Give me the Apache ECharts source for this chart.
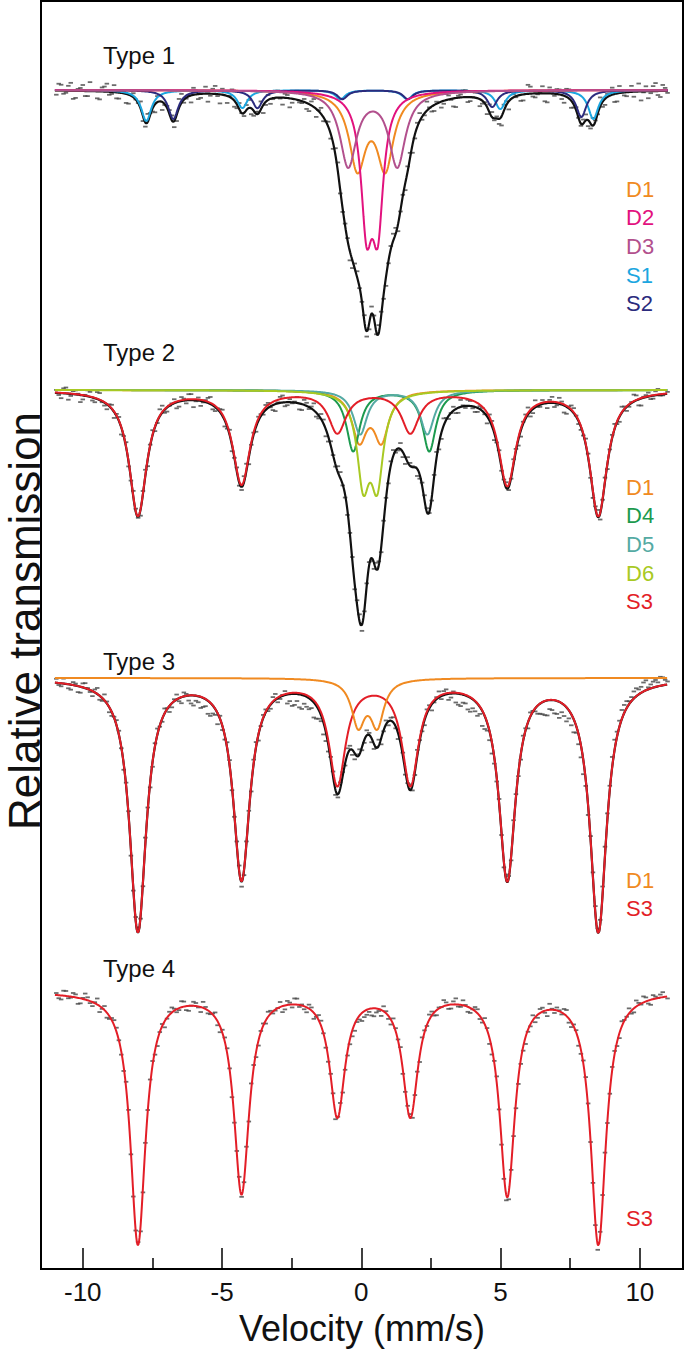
<!DOCTYPE html>
<html><head><meta charset="utf-8">
<script src="https://cdn.jsdelivr.net/npm/echarts@6/dist/echarts.min.js"></script>
<style>html,body{margin:0;padding:0;background:#fff}#c{width:685px;height:1351px}</style>
</head><body><div id="c"></div>
<script>
// ---------------- axis / labels ----------------
const velocityTicks = [-10, -5, 0, 5, 10];
const velocityMinorTicks = [-7.5, -2.5, 2.5, 7.5];
const panelNames = ['Type 1', 'Type 2', 'Type 3', 'Type 4'];
const legendT1 = ['D1', 'D2', 'D3', 'S1', 'S2'];
const legendT2 = ['D1', 'D4', 'D5', 'D6', 'S3'];
const legendT3 = ['D1', 'S3'];
const legendT4 = ['S3'];

// ---------------- fitted sub-spectra: line positions (mm/s), depths (% absorption), half widths (mm/s) ----------------
const S3_pos = [-8.02, -4.30, -0.86, 1.76, 5.24, 8.51];

// Type 1
const T1_S1_pos = [-7.72, -4.27, -0.75, 1.65, 4.99, 8.33];
const T1_S1_depth = [0.31, 0.18, 0.09, 0.09, 0.19, 0.29];
const T1_S2_pos = [-6.75, -3.73, -0.68, 1.68, 4.70, 7.90];
const T1_S2_depth = [0.29, 0.18, 0.09, 0.09, 0.17, 0.27];
const T1_D1_pos = [-0.14, 0.86];
const T1_D1_depth = [0.75, 0.75];
const T1_D2_pos = [0.19, 0.59];
const T1_D2_depth = [1.24, 1.24];
const T1_D3_pos = [-0.47, 1.29];
const T1_D3_depth = [0.75, 0.75];
const T1_halfwidth = {S1: 0.22, S2: 0.22, D1: 0.36, D2: 0.245, D3: 0.36};

// Type 2
const T2_S3_depth = [1.25, 0.93, 0.41, 0.41, 0.94, 1.25];
const T2_D1_pos = [-0.07, 0.72];
const T2_D1_depth = [0.48, 0.48];
const T2_D4_pos = [-0.29, 2.44];
const T2_D4_depth = [0.61, 0.61];
const T2_D5_pos = [-0.04, 2.37];
const T2_D5_depth = [0.44, 0.44];
const T2_D6_pos = [0.07, 0.57];
const T2_D6_depth = [0.86, 0.86];
const T2_halfwidth = {S3: 0.38, D1: 0.32, D4: 0.29, D5: 0.30, D6: 0.27};

// Type 3
const T3_S3_depth = [2.52, 1.99, 1.03, 1.03, 1.99, 2.52];
const T3_D1_pos = [-0.11, 0.57];
const T3_D1_depth = [0.45, 0.45];
const T3_halfwidth = {S3: 0.36, D1: 0.29};

// Type 4
const T4_S3_depth = [2.52, 2.00, 1.22, 1.22, 2.02, 2.52];
const T4_halfwidth = {S3: 0.33};

// ---------------- measured points: residuals from the fit (0.01 % units) ----------------
// even channels start at -10.95 mm/s, odd channels lie half a step further; step = 0.0864 mm/s
const CH_START = -10.95, CH_STEP = 0.0864;
const T1_resid_even = [-4,6,-2,8,-7,3,-5,9,1,-8,5,-3,7,-6,2,-9,4,0,-5,8,-3,6,-8,2,5,-6,9,-1,-7,4,-4,7,-2,8,-9,3,1,-6,6,-3,8,-5,2,-8,5,-1,7,-7,3,-4,9,-2,-6,4,-8,6,0,-5,7,-3,2,-9,5,-1,6,-6,3,8,-4,-2,7,-7,1,5,-8,4,-3,9,-5,2,-6,6,-1,-9,3,7,-4,5,-7,1,8,-2,-5,6,-8,3,4,-6,9,-3,-1,7,-9,2,5,-4,8,-7,3,-2,6,-5,1,9,-6,4,-8,7,-3,2,-5,8,-1,-7,5,-4,6,-2];
const T1_resid_odd = [7,-3,5,-8,2,6,-5,1,-7,4,8,-2,-6,3,-9,5,0,7,-4,2,-8,6,-1,4,-6,9,-3,1,7,-5,3,-8,5,-2,6,-7,9,-4,0,5,-6,2,8,-3,-5,7,-1,4,-9,6,-2,3,-7,8,1,-4,5,-6,9,-3,2,-8,6,0,-5,7,-2,4,-9,3,6,-1,-7,5,-4,8,-2,1,-6,9,-3,4,-8,2,7,-5,0,6,-3,-7,5,2,-9,4,8,-1,-6,3,7,-4,1,-8,6,-2,5,-7,9,-3,0,4,-6,8,-1,-5,3,7,-8,2,-4,6,1,-9,5,-2,8,-6,3];
const T2_resid_even = [3,-5,6,-2,4,-7,1,5,-4,7,-3,2,-6,4,0,-5,6,-1,3,-7,5,-2,7,-4,1,-6,4,-3,6,-1,-5,2,7,-4,3,-6,5,0,-3,6,-7,2,4,-2,5,-5,1,7,-3,-1,6,-6,3,2,-4,5,-7,4,-2,6,-3,1,-5,7,-1,3,-6,4,2,-4,6,-2,-5,5,1,-7,3,4,-3,6,-6,2,0,-4,7,-2,5,-5,3,-1,6,-7,4,1,-3,5,-6,2,7,-4,-1,4,-5,6,-2,3,-7,5,1,-3,6,-4,2,-6,4,0,5,-5,3,-2,7,-6,1,4,-3,6,-1,2];
const T2_resid_odd = [-2,5,-6,3,1,-4,6,-3,7,-1,-5,4,2,-7,5,-2,3,-6,6,1,-4,7,-3,0,4,-5,2,6,-7,3,-1,5,-4,1,6,-2,-6,4,-3,7,0,-5,2,5,-1,-7,6,-4,3,1,-6,5,-2,7,-3,4,-5,0,6,-1,-4,3,5,-6,2,-3,7,-5,1,4,-2,6,-7,3,0,-4,5,-1,2,-6,7,-3,4,-5,1,6,-2,-4,3,-7,5,0,-3,6,-1,2,-6,4,-5,7,-2,1,3,-4,6,-7,2,5,-3,-1,4,-6,7,0,-5,3,-2,6,-4,1,5,-7,2,-3,4,-1];
const T3_resid_even = [4,-3,6,-5,2,-6,5,-2,3,-4,6,-5,1,4,-6,3,-2,5,-4,2,-5,6,-3,1,-4,5,-6,2,-8,-5,-11,-7,-13,-6,3,-4,5,-2,6,-5,2,4,-6,3,-3,5,-4,1,-9,-12,-7,-14,-10,-8,-13,-6,-9,3,-5,6,-2,4,-6,5,-3,2,-5,6,-1,-4,5,-6,3,1,-5,6,-2,4,-6,2,-3,5,-4,-9,-12,-8,-14,-10,-7,-13,-9,-6,4,-5,2,6,-3,5,-6,1,-8,-12,-15,-10,-13,-9,-14,-11,-7,-12,-6,3,7,5,9,4,10,6,8,3,7,5,9,2,6,4,8,3];
const T3_resid_odd = [-2,5,-4,3,-6,4,1,-5,6,-3,2,-4,5,-1,3,-6,4,-2,6,-5,3,-1,5,-6,2,-3,4,-5,-10,-6,-9,-13,-8,-11,-4,6,-3,4,-5,2,-6,5,-1,3,-4,6,-2,4,-7,-11,-13,-8,-11,-15,-9,-12,-7,5,-3,4,6,-5,2,-3,5,-4,1,-6,4,3,-2,5,-4,6,-3,1,-5,3,-1,6,4,-6,2,-11,-8,-13,-9,-12,-15,-8,-11,-4,-2,6,-4,3,-5,2,4,-3,-10,-14,-9,-13,-16,-11,-8,-13,-10,-14,-9,5,4,8,6,10,5,9,7,4,8,6,10,4,7,9,5,6];
const T4_resid_even = [2,-4,5,-1,3,-5,6,-2,1,-6,4,-3,5,0,-4,6,-2,3,-5,1,4,-6,2,-1,5,-3,6,-4,0,3,-5,2,-2,5,-6,4,1,-3,6,-1,-4,3,-5,2,5,-2,0,-6,4,-3,6,1,-5,3,-1,5,-4,2,-6,4,-2,-5,-7,-4,-6,-3,-8,-2,5,-3,6,1,-4,3,-6,2,5,-1,4,-5,0,3,-4,6,-2,1,-5,4,-3,6,-6,2,-1,-5,-7,-3,-6,-4,-2,5,-3,4,-6,1,3,-2,6,-5,2,-4,5,-1,-3,4,6,-2,3,-5,1,5,-4,2,6,-3,4,0,5,-2];
const T4_resid_odd = [-3,5,-2,4,-6,1,3,-4,6,-1,-5,2,4,-3,6,-2,1,-5,3,5,-4,0,-6,3,2,-2,5,-5,4,-1,6,-3,1,-4,3,5,-6,2,-2,4,6,-5,1,-3,3,-1,5,-4,2,6,-2,-3,4,-6,5,0,-4,3,1,-5,-4,-6,-3,-8,-5,-7,-4,-6,2,-5,3,6,-2,4,-1,-6,2,5,-3,1,6,-4,3,-2,5,-5,0,4,-3,2,-6,6,-4,-5,-3,-6,-4,-7,-2,-5,4,-2,6,-3,1,5,-4,2,-6,3,4,-1,-5,6,-2,3,-4,5,0,-3,6,-1,4,-5,2,3];

// ---------------- colours ----------------
const COLORS = {D1:'#F08A21', D2:'#E2127E', D3:'#B2508D', S1:'#1CA6E0', S2:'#2B2B7D',
  D4:'#1C9A4E', D5:'#54AAA3', D6:'#A8C923', S3:'#E31E27', total:'#111111', data:'#474747'};

// ---------------- model helpers ----------------
function absorption(pos, depth, hw, v) {
  let s = 0;
  for (let i = 0; i < pos.length; i++) { const d = (v - pos[i]) / hw; s += depth[i] / (1 + d * d); }
  return s;
}
const curveV = [];
for (let k = 0; k <= 1100; k++) curveV.push(+(-11 + k * 0.02).toFixed(3));

const panels = [
  { comps: [
      {name:'S1', pos:T1_S1_pos, depth:T1_S1_depth, hw:T1_halfwidth.S1},
      {name:'S2', pos:T1_S2_pos, depth:T1_S2_depth, hw:T1_halfwidth.S2},
      {name:'D1', pos:T1_D1_pos, depth:T1_D1_depth, hw:T1_halfwidth.D1},
      {name:'D2', pos:T1_D2_pos, depth:T1_D2_depth, hw:T1_halfwidth.D2},
      {name:'D3', pos:T1_D3_pos, depth:T1_D3_depth, hw:T1_halfwidth.D3}],
    total: true, even: T1_resid_even, odd: T1_resid_odd, legend: legendT1 },
  { comps: [
      {name:'D1', pos:T2_D1_pos, depth:T2_D1_depth, hw:T2_halfwidth.D1},
      {name:'D4', pos:T2_D4_pos, depth:T2_D4_depth, hw:T2_halfwidth.D4},
      {name:'D5', pos:T2_D5_pos, depth:T2_D5_depth, hw:T2_halfwidth.D5},
      {name:'D6', pos:T2_D6_pos, depth:T2_D6_depth, hw:T2_halfwidth.D6},
      {name:'S3', pos:S3_pos, depth:T2_S3_depth, hw:T2_halfwidth.S3}],
    total: true, even: T2_resid_even, odd: T2_resid_odd, legend: legendT2 },
  { comps: [
      {name:'S3', pos:S3_pos, depth:T3_S3_depth, hw:T3_halfwidth.S3},
      {name:'D1', pos:T3_D1_pos, depth:T3_D1_depth, hw:T3_halfwidth.D1}],
    total: true, even: T3_resid_even, odd: T3_resid_odd, legend: legendT3 },
  { comps: [
      {name:'S3', pos:S3_pos, depth:T4_S3_depth, hw:T4_halfwidth.S3}],
    total: false, even: T4_resid_even, odd: T4_resid_odd, legend: legendT4 }
];

// ---------------- layout ----------------
const LEFT = 41, RIGHT = 2, XMIN = -11.5, XMAX = 11.55;
const baselinePx = [90, 390, 678, 991];
const PAD_TOP = 40, PAD_BOT = 280;            // 100 px per 1 %
const Y_MAX = 100 + PAD_TOP / 100, Y_MIN = 100 - PAD_BOT / 100;
const typeLabelY = [55, 352, 661, 968];
const legendTopY = [189, 487, 880, 1218];
const LEGEND_STEP = 28.7;
const FONT = '"Liberation Sans", Arial, sans-serif';

const grid = [], xAxis = [], yAxis = [], series = [], graphic = [];
panels.forEach((p, gi) => {
  grid.push({left: LEFT, right: RIGHT, top: baselinePx[gi] - PAD_TOP, height: PAD_TOP + PAD_BOT});
  xAxis.push({gridIndex: gi, type: 'value', min: XMIN, max: XMAX, show: false});
  yAxis.push({gridIndex: gi, type: 'value', min: Y_MIN, max: Y_MAX, show: false});
  const totalAbs = v => p.comps.reduce((s, c) => s + absorption(c.pos, c.depth, c.hw, v), 0);
  // measured points
  const pts = [];
  p.even.forEach((r, i) => { const v = CH_START + 2 * i * CH_STEP; if (v <= 11.02) pts.push([v, 100 - totalAbs(v) + r / 100]); });
  p.odd.forEach((r, i) => { const v = CH_START + (2 * i + 1) * CH_STEP; if (v <= 11.02) pts.push([v, 100 - totalAbs(v) + r / 100]); });
  series.push({type: 'scatter', xAxisIndex: gi, yAxisIndex: gi, data: pts, symbol: 'rect',
    symbolSize: [4.5, 1.8], itemStyle: {color: COLORS.data}, silent: true, z: 1});
  if (p.total) {
    series.push({type: 'line', xAxisIndex: gi, yAxisIndex: gi, showSymbol: false, silent: true,
      data: curveV.map(v => [v, 100 - totalAbs(v)]), lineStyle: {color: COLORS.total, width: 2.2}, z: 2});
  }
  p.comps.forEach((c, ci) => {
    series.push({type: 'line', xAxisIndex: gi, yAxisIndex: gi, showSymbol: false, silent: true,
      data: curveV.map(v => [v, 100 - absorption(c.pos, c.depth, c.hw, v)]),
      lineStyle: {color: COLORS[c.name], width: 2}, z: 3 + ci});
  });
  graphic.push({type: 'text', x: 103, y: typeLabelY[gi],
    style: {text: panelNames[gi], fill: '#111', font: '24px ' + FONT,
      textVerticalAlign: 'middle', verticalAlign: 'middle'}});
  p.legend.forEach((name, li) => {
    graphic.push({type: 'text', x: 626, y: legendTopY[gi] + li * LEGEND_STEP,
      style: {text: name, fill: COLORS[name], font: '22px ' + FONT,
        textVerticalAlign: 'middle', verticalAlign: 'middle'}});
  });
});

// frame grid with the velocity axis
const FG = panels.length;
grid.push({left: LEFT, right: RIGHT, top: 1, bottom: 76, show: true, borderColor: '#000', borderWidth: 2,
  backgroundColor: 'transparent'});
xAxis.push({gridIndex: FG, type: 'value', min: XMIN, max: XMAX, position: 'bottom',
  axisLine: {show: true, lineStyle: {color: '#000', width: 2}},
  axisTick: {show: true, inside: true, length: 21, customValues: velocityTicks, lineStyle: {color: '#000', width: 1.5}},
  axisLabel: {show: true, customValues: velocityTicks, margin: 10, fontSize: 26, color: '#111', fontFamily: FONT},
  splitLine: {show: false},
  name: 'Velocity (mm/s)', nameLocation: 'middle', nameGap: 34,
  nameTextStyle: {fontSize: 36, color: '#111', fontFamily: FONT}});
xAxis.push({gridIndex: FG, type: 'value', min: XMIN, max: XMAX, position: 'bottom',
  axisLine: {show: false},
  axisTick: {show: true, inside: true, length: 11, customValues: velocityMinorTicks, lineStyle: {color: '#000', width: 1.5}},
  axisLabel: {show: false}, splitLine: {show: false}});
yAxis.push({gridIndex: FG, type: 'value', min: 0, max: 1, show: false});

graphic.push({type: 'text', x: 24, y: 621, rotation: Math.PI / 2,
  style: {text: 'Relative transmission', fill: '#111', font: '44px ' + FONT,
    textAlign: 'center', align: 'center', textVerticalAlign: 'middle', verticalAlign: 'middle'}});

const chart = echarts.init(document.getElementById('c'), null, {renderer: 'svg'});
chart.setOption({animation: false, backgroundColor: '#fff', grid, xAxis, yAxis, series, graphic});
</script></body></html>
